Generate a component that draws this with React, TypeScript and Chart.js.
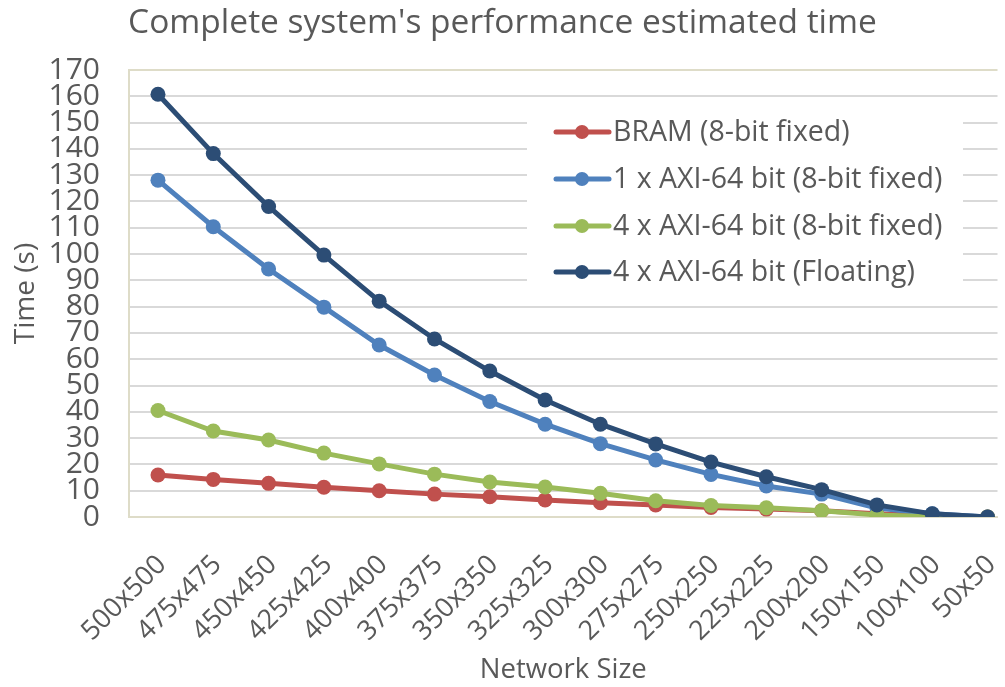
import React, { useEffect, useRef } from "react";
import { Chart, registerables } from "chart.js";

Chart.register(...registerables);

const categories = [
  "500x500", "475x475", "450x450", "425x425", "400x400", "375x375", "350x350", "325x325",
  "300x300", "275x275", "250x250", "225x225", "200x200", "150x150", "100x100", "50x50",
];
const bramFixed = [16.0, 14.3, 12.8, 11.3, 10.0, 8.7, 7.7, 6.5, 5.4, 4.6, 3.6, 3.0, 2.4, 1.2, 0.4, 0];
const axi1Fixed = [128.1, 110.4, 94.3, 79.8, 65.4, 54.0, 43.9, 35.3, 27.9, 21.7, 16.2, 11.8, 8.7, 3.4, 1.2, 0];
const axi4Fixed = [40.5, 32.7, 29.3, 24.3, 20.2, 16.3, 13.3, 11.4, 9.0, 6.2, 4.4, 3.5, 2.4, 0.8, 0.1, 0];
const axi4Float = [160.8, 138.2, 118.1, 99.6, 82.1, 67.7, 55.5, 44.5, 35.3, 27.8, 20.9, 15.3, 10.4, 4.6, 1.2, 0];
const seriesNames = [
  "BRAM (8-bit fixed)",
  "1 x AXI-64 bit (8-bit fixed)",
  "4 x AXI-64 bit (8-bit fixed)",
  "4 x AXI-64 bit (Floating)",
];
const seriesColors = ["#C0504D", "#4F81BD", "#9BBB59", "#2C4D75"];
const yTicks = [0, 10, 20, 30, 40, 50, 60, 70, 80, 90, 100, 110, 120, 130, 140, 150, 160, 170];

const FONT = "'Open Sans', sans-serif";
const TEXT = "#595959";
const GRID = "#D9D9D9";
const BEIGE = "#DEDCC8";

const legendPlugin = {
  id: "insideLegend",
  afterDatasetsDraw(chart: any) {
    const ctx = chart.ctx;
    ctx.save();
    ctx.fillStyle = "#FFFFFF";
    ctx.fillRect(527, 108, 436, 186);
    const rowY = [132, 179, 226, 272];
    chart.data.datasets.forEach((ds: any, i: number) => {
      const y = rowY[i];
      ctx.strokeStyle = ds.borderColor;
      ctx.lineWidth = 5;
      ctx.lineCap = "round";
      ctx.beginPath();
      ctx.moveTo(556, y);
      ctx.lineTo(609, y);
      ctx.stroke();
      ctx.fillStyle = ds.borderColor;
      ctx.beginPath();
      ctx.arc(582, y, 7, 0, Math.PI * 2);
      ctx.fill();
      ctx.fillStyle = TEXT;
      ctx.font = `28.5px ${FONT}`;
      ctx.textAlign = "left";
      ctx.textBaseline = "middle";
      ctx.fillText(ds.label, 613, y + 1);
    });
    ctx.restore();
  },
};

export default function App() {
  const ref = useRef<HTMLCanvasElement | null>(null);

  useEffect(() => {
    document.body.style.margin = "0";
    const series = [bramFixed, axi1Fixed, axi4Fixed, axi4Float];
    const chart = new Chart(ref.current as HTMLCanvasElement, {
      type: "line",
      data: {
        datasets: series.map((vals, i) => ({
          label: seriesNames[i],
          data: vals.map((v, j) => ({ x: j, y: v })),
          borderColor: seriesColors[i],
          backgroundColor: seriesColors[i],
          borderWidth: 5,
          pointRadius: 7.5,
          pointHoverRadius: 7.5,
          pointBorderWidth: 0,
          tension: 0,
          order: 4 - i,
        })),
      },
      options: {
        responsive: false,
        animation: false,
        layout: { padding: 0 },
        plugins: {
          legend: { display: false },
          tooltip: { enabled: false },
          title: {
            display: true,
            text: "Complete system's performance estimated time",
            color: TEXT,
            font: { family: FONT, size: 33.5, weight: "normal" },
            padding: { top: 3, bottom: 26.8 },
          },
        },
        scales: {
          x: {
            type: "linear",
            min: -0.524,
            max: 15.18,
            afterBuildTicks: (scale: any) => {
              scale.ticks = categories.map((_, i) => ({ value: i }));
            },
            afterFit: (scale: any) => {
              scale.height = 170;
              scale.paddingLeft = 0;
              scale.paddingRight = 0;
            },
            ticks: {
              autoSkip: false,
              minRotation: 45,
              maxRotation: 45,
              color: TEXT,
              font: { family: FONT, size: 27 },
              padding: 24,
              labelOffset: 4,
              callback: (v: any) => categories[v] ?? "",
            },
            grid: { display: false },
            border: { display: true, color: BEIGE, width: 2 },
            title: {
              display: true,
              text: "Network Size",
              color: TEXT,
              font: { family: FONT, size: 27.5 },
              padding: { top: 0, bottom: 0 },
            },
          },
          y: {
            min: 0,
            max: 170,
            afterBuildTicks: (scale: any) => {
              scale.ticks = yTicks.map((v) => ({ value: v }));
            },
            afterFit: (scale: any) => {
              scale.width = 129;
            },
            ticks: {
              autoSkip: false,
              color: TEXT,
              font: { family: FONT, size: 30 },
              padding: 29,
            },
            grid: {
              drawTicks: false,
              lineWidth: 2,
              color: (c: any) => (c.tick && (c.tick.value === 0 || c.tick.value === 170) ? BEIGE : GRID),
            },
            border: { display: true, color: BEIGE, width: 2 },
            title: {
              display: true,
              text: "Time (s)",
              color: TEXT,
              font: { family: FONT, size: 28 },
              padding: { top: 9, bottom: 0 },
            },
          },
        },
      },
      plugins: [legendPlugin],
    });
    return () => chart.destroy();
  }, []);

  return (
    <div style={{ position: "absolute", left: 0, top: 0, width: 1005, height: 687 }}>
      <canvas ref={ref} width={1005} height={687} style={{ display: "block" }} />
    </div>
  );
}
